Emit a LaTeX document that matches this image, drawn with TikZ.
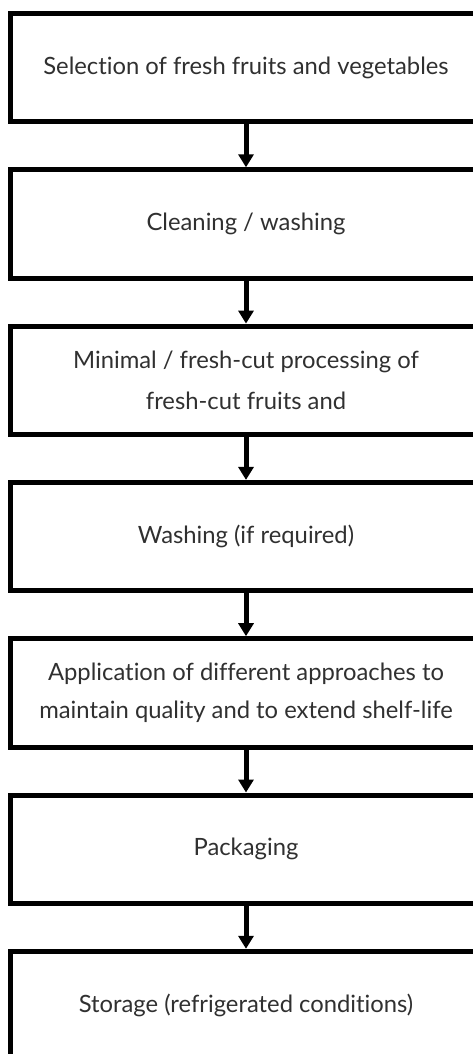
\documentclass[tikz,border=0pt]{standalone}
\usepackage{fontspec}
\setmainfont{Lato}[Ligatures={NoCommon}]
\usetikzlibrary{arrows.meta}
\definecolor{txt}{HTML}{303030}
\begin{document}
\begin{tikzpicture}[x=1pt,y=-1pt,
  stepbox/.style={draw=black, line width=5pt, minimum width=471pt, minimum height=108.5pt,
    inner sep=0pt, align=center, text=txt, font=\fontsize{23.8}{41}\selectfont},
  flow/.style={line width=5pt, -{Triangle[width=15pt,length=13pt]}}]
\useasboundingbox (0,0) rectangle (472,1054);
\node[stepbox] (b1) at (246,67.75) {Selection of fresh fruits and vegetables};
\node[stepbox] (b2) at (246,224.05) {Cleaning / washing};
\node[stepbox] (b3) at (246,380.35) {Minimal / fresh-cut processing of\\fresh-cut fruits and};
\node[stepbox, font=\fontsize{23.8}{38}\selectfont] (b5) at (246,692.95) {Application of different approaches to\\maintain quality and to extend shelf-life};
\node[stepbox] (b4) at (246,536.65) {Washing (if required)};
\node[stepbox] (b6) at (246,849.25) {Packaging};
\node[stepbox] (b7) at (246,1005.55) {Storage (refrigerated conditions)};
\foreach \a/\b in {b1/b2,b2/b3,b3/b4,b4/b5,b5/b6,b6/b7}
  \draw[flow] (\a.south) -- (\b.north);
\end{tikzpicture}
\end{document}
